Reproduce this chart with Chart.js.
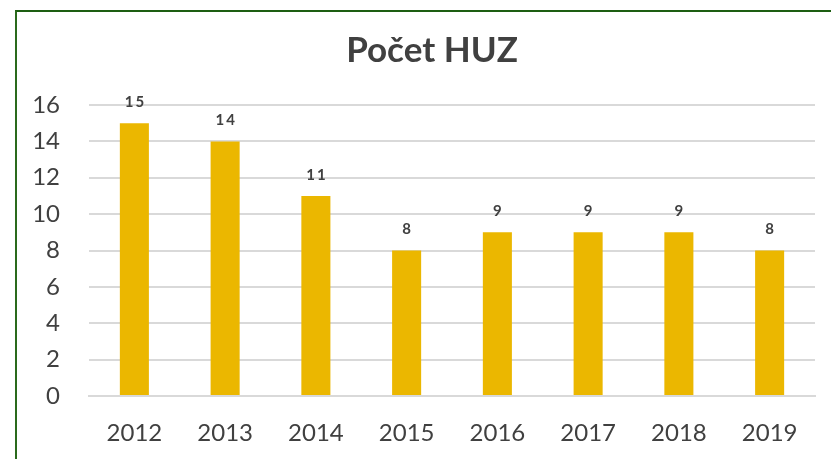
<!DOCTYPE html>
<html>
<head>
<meta charset="utf-8">
<script src="https://cdn.jsdelivr.net/npm/chart.js@4/dist/chart.umd.min.js"></script>
<style>
html,body{margin:0;padding:0;background:#fff;}
#wrap{position:relative;width:831px;height:459px;overflow:hidden;}
#frame{position:absolute;left:15px;top:10px;width:900px;height:500px;border-top:2px solid #1d5e12;border-left:2px solid #2a6a1c;box-sizing:border-box;}
canvas{position:absolute;left:0;top:0;}
</style>
</head>
<body>
<div id="wrap">
<div id="frame"></div>
<canvas id="c" width="831" height="459"></canvas>
</div>
<script>
const categories = ['2012','2013','2014','2015','2016','2017','2018','2019'];
const values = [15,14,11,8,9,9,9,8];
const yTicks = [0,2,4,6,8,10,12,14,16];
const titleText = 'Počet HUZ';

const FONT = 'Lato, "Open Sans", sans-serif';
const TXT = '#404040';

const labelPlugin = {
  id: 'barLabels',
  afterDatasetsDraw(chart) {
    const ctx = chart.ctx;
    const meta = chart.getDatasetMeta(0);
    ctx.save();
    ctx.font = 'bold 15px ' + FONT;
    ctx.fillStyle = TXT;
    ctx.textAlign = 'center';
    ctx.textBaseline = 'middle';
    try { ctx.letterSpacing = '2px'; } catch(e) {}
    meta.data.forEach((bar, i) => {
      ctx.fillText(String(values[i]), bar.x + 1, bar.y - 21);
    });
    ctx.restore();
  }
};

new Chart(document.getElementById('c'), {
  type: 'bar',
  data: {
    labels: categories,
    datasets: [{
      data: values,
      backgroundColor: '#ebb700',
      barPercentage: 0.32,
      categoryPercentage: 1.0
    }]
  },
  plugins: [labelPlugin],
  options: {
    responsive: false,
    animation: false,
    layout: { padding: { left: 49, right: 16, top: 0, bottom: 0 } },
    plugins: {
      legend: { display: false },
      tooltip: { enabled: false },
      title: {
        display: true,
        text: titleText,
        color: TXT,
        font: { family: FONT, size: 35, weight: 'bold' },
        padding: { top: 30, bottom: 33 }
      }
    },
    scales: {
      x: {
        afterFit(scale) { scale.height = 63; },
        grid: { display: false, drawTicks: false },
        border: { display: true, color: '#d9d9d9', width: 2 },
        ticks: { color: TXT, font: { family: FONT, size: 24 }, padding: 23 }
      },
      y: {
        min: 0, max: 16,
        afterFit(scale) {
          scale.width = 40;
          scale._computeLabelArea = function() { return undefined; };
        },
        afterBuildTicks(scale) { scale.ticks = yTicks.map(v => ({ value: v })); },
        grid: { color: '#d9d9d9', lineWidth: 2, drawTicks: false },
        border: { display: false },
        ticks: { color: TXT, font: { family: FONT, size: 24 }, padding: 29 }
      }
    }
  }
});
</script>
</body>
</html>
